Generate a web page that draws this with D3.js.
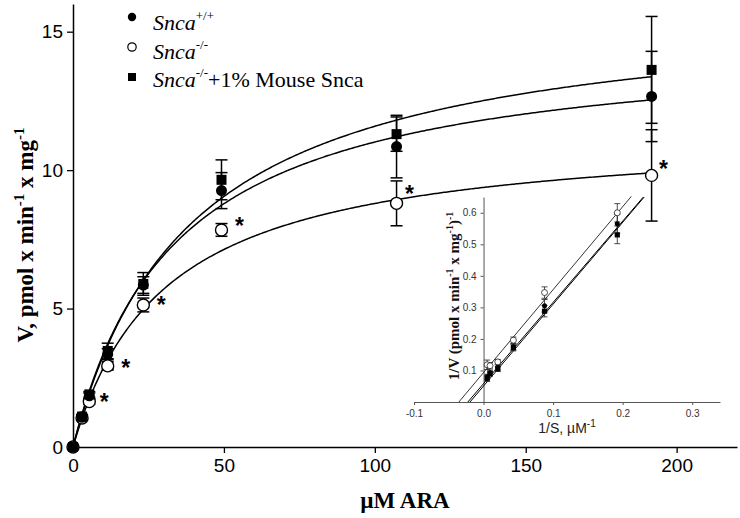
<!DOCTYPE html>
<html><head><meta charset="utf-8">
<script src="https://cdn.jsdelivr.net/npm/d3@7/dist/d3.min.js"></script>
<style>body{margin:0;background:#fff}svg{display:block}</style>
</head><body>
<svg id="c" width="740" height="518"></svg>
<script>
// ---------- data ----------
const substrate = [0, 3, 5.4, 11.5, 23.3, 49.2, 107.2, 191.7];           // µM ARA
const wtV       = [0, 1.07, 1.85, 3.35, 5.85, 9.26, 10.85, 12.66];       // Snca+/+
const wtSE      = [0, 0.08, 0.1, 0.2, 0.3, 0.65, 1.13, 1.63];
const koV       = [0, 1.05, 1.64, 2.93, 5.13, 7.84, 8.80, 9.81];         // Snca-/-
const koSE      = [0, 0.08, 0.1, 0.15, 0.25, 0.23, 0.81, 1.65];
const resV      = [0, 1.1, 1.90, 3.47, 5.89, 9.65, 11.30, 13.62];       // Snca-/- + 1% mouse Snca
const resSE     = [0, 0.08, 0.1, 0.28, 0.41, 0.72, 0.62, 1.93];
const starIdx   = [2, 3, 4, 5, 6, 7];                                    // significance marks on Snca-/-
// Michaelis-Menten fit curves drawn in the figure
const fitNames  = ["wt", "ko", "res"];
const fitVmax   = [14.76, 11.47, 16.09];
const fitKm     = [34.0, 30.4, 38.9];
const xTicks    = [0, 50, 100, 150, 200];
const yTicks    = [0, 5, 10, 15];
// inset: Lineweaver-Burk
const invS      = [0.0052, 0.0093, 0.0205, 0.0429, 0.0877, 0.1923];
const invWt     = [0.080, 0.093, 0.110, 0.175, 0.305, 0.565];
const invWtErr  = [0.008, 0.008, 0.008, 0.010, 0.020, 0.030];
const invKo     = [0.118, 0.115, 0.127, 0.196, 0.347, 0.600];
const invKoErr  = [0.015, 0.010, 0.008, 0.010, 0.018, 0.029];
const invRes    = [0.075, 0.090, 0.105, 0.172, 0.288, 0.530];
const invResErr = [0.010, 0.008, 0.008, 0.010, 0.018, 0.028];
const lbLineKoX  = [-0.0355, 0.2125], lbLineKoY  = [0, 0.652];
const lbLineWtX  = [-0.0195, 0.2310], lbLineWtY  = [0, 0.650];
const lbLineResX = [-0.0226, 0.2298], lbLineResY = [0, 0.650];
const ixTicks   = [-0.1, 0, 0.1, 0.2, 0.3];
const iyTicks   = [0.1, 0.2, 0.3, 0.4, 0.5, 0.6];

// ---------- drawing ----------
const svg = d3.select("#c");
const x = d3.scaleLinear().domain([0, 220]).range([73, 737]);
const y = d3.scaleLinear().domain([0, 16]).range([447, 4]);

const ix = d3.scaleLinear().domain([-0.1, 0.34]).range([414, 720]);
const iy = d3.scaleLinear().domain([0, 0.65]).range([402, 197]);

// ---- inset first (underneath main marks) ----
const ins = svg.append("g");
const ixa = ins.append("g").attr("transform", `translate(0,${iy(0)})`)
  .call(d3.axisBottom(ix).tickValues(ixTicks).tickSize(3).tickSizeOuter(0).tickPadding(5).tickFormat(d => d.toFixed(1)));
const iya = ins.append("g").attr("transform", `translate(${ix(0)},0)`)
  .call(d3.axisLeft(iy).tickValues(iyTicks).tickSize(3).tickSizeOuter(0).tickPadding(4).tickFormat(d => d.toFixed(1)));
[ixa, iya].forEach(a => {
  a.select(".domain").attr("stroke", "#555").attr("stroke-width", 1);
  a.selectAll(".tick line").attr("stroke", "#555");
  a.selectAll("text").attr("font-family", "Liberation Sans, Arial, sans-serif").attr("font-size", 10).attr("fill", "#333");
});
ins.append("text").attr("x", 567).attr("y", 433).attr("text-anchor", "middle")
  .attr("font-family", "Liberation Sans, Arial, sans-serif").attr("font-size", 14).attr("fill", "#222")
  .html('1/S, µM<tspan dy="-6" font-size="10">-1</tspan>');
ins.append("text").attr("transform", "translate(459,296) rotate(-90)").attr("text-anchor", "middle")
  .attr("font-family", "Liberation Serif, Times New Roman, serif").attr("font-weight", "bold").attr("font-size", 15).attr("fill", "#111")
  .html('1/V (pmol x min<tspan dy="-6" font-size="10">-1</tspan><tspan dy="6"> x mg</tspan><tspan dy="-6" font-size="10">-1</tspan><tspan dy="6">)</tspan><tspan dy="-6" font-size="10">-1</tspan>');

function lbLine(xs, ys, w) {
  ins.append("line").attr("x1", ix(xs[0])).attr("y1", iy(ys[0])).attr("x2", ix(xs[1])).attr("y2", iy(ys[1]))
    .attr("stroke", "#000").attr("stroke-width", w);
}
lbLine(lbLineKoX, lbLineKoY, 0.8);
lbLine(lbLineWtX, lbLineWtY, 1);
lbLine(lbLineResX, lbLineResY, 1);

function insetErr(vals, errs) {
  invS.forEach((s, i) => {
    const cx = ix(s), t = iy(vals[i] + errs[i]), b = iy(vals[i] - errs[i]);
    ins.append("line").attr("x1", cx).attr("x2", cx).attr("y1", t).attr("y2", b).attr("stroke", "#222").attr("stroke-width", 0.8);
    [t, b].forEach(yy => ins.append("line").attr("x1", cx - 3).attr("x2", cx + 3).attr("y1", yy).attr("y2", yy).attr("stroke", "#222").attr("stroke-width", 0.8));
  });
}
insetErr(invKo, invKoErr); insetErr(invWt, invWtErr); insetErr(invRes, invResErr);
invS.forEach((s, i) => ins.append("circle").attr("cx", ix(s)).attr("cy", iy(invKo[i])).attr("r", 3).attr("fill", "#fff").attr("stroke", "#222").attr("stroke-width", 0.8));
invS.forEach((s, i) => ins.append("circle").attr("cx", ix(s)).attr("cy", iy(invWt[i])).attr("r", 2.5).attr("fill", "#000"));
invS.forEach((s, i) => ins.append("rect").attr("x", ix(s) - 2.6).attr("y", iy(invRes[i]) - 2.6).attr("width", 5.2).attr("height", 5.2).attr("fill", "#000"));

// ---- main axes ----
const xa = svg.append("g").attr("transform", `translate(0,${y(0)})`)
  .call(d3.axisBottom(x).tickValues(xTicks).tickSize(6).tickSizeOuter(0).tickPadding(6));
const ya = svg.append("g").attr("transform", `translate(${x(0)},0)`)
  .call(d3.axisLeft(y).tickValues(yTicks).tickSize(6).tickSizeOuter(0).tickPadding(4));
[xa, ya].forEach(a => {
  a.select(".domain").attr("stroke", "#000").attr("stroke-width", 1.5);
  a.selectAll(".tick line").attr("stroke", "#000").attr("stroke-width", 1.3);
  a.selectAll("text").attr("font-family", "Liberation Sans, Arial, sans-serif").attr("font-size", 19).attr("fill", "#000");
});

svg.append("text").attr("x", 405).attr("y", 508).attr("text-anchor", "middle")
  .attr("font-family", "Liberation Serif, Times New Roman, serif").attr("font-weight", "bold").attr("font-size", 23)
  .text("µM ARA");
svg.append("text").attr("transform", "translate(33,235) rotate(-90)").attr("text-anchor", "middle")
  .attr("font-family", "Liberation Serif, Times New Roman, serif").attr("font-weight", "bold").attr("font-size", 23)
  .html('V, pmol x min<tspan dy="-9" font-size="15">-1</tspan><tspan dy="9"> x mg</tspan><tspan dy="-9" font-size="15">-1</tspan>');

// ---- fit curves ----
const sMax = substrate[substrate.length - 1];
const line = d3.line().x(d => x(d[0])).y(d => y(d[1])).curve(d3.curveLinear);
fitNames.forEach((n, k) => {
  const pts = d3.range(0, sMax + 0.01, 0.5).map(s => [s, fitVmax[k] * s / (fitKm[k] + s)]);
  svg.append("path").attr("d", line(pts)).attr("fill", "none").attr("stroke", "#000").attr("stroke-width", 1.5);
});

// ---- error bars ----
function errBars(vals, ses) {
  substrate.forEach((s, i) => {
    if (!ses[i]) return;
    const cx = x(s), t = y(vals[i] + ses[i]), b = y(vals[i] - ses[i]);
    svg.append("line").attr("x1", cx).attr("x2", cx).attr("y1", t).attr("y2", b).attr("stroke", "#000").attr("stroke-width", 1.5);
    [t, b].forEach(yy => svg.append("line").attr("x1", cx - 6).attr("x2", cx + 6).attr("y1", yy).attr("y2", yy).attr("stroke", "#000").attr("stroke-width", 1.5));
  });
}
errBars(koV, koSE); errBars(wtV, wtSE); errBars(resV, resSE);

// ---- markers ----
substrate.forEach((s, i) => svg.append("circle").attr("cx", x(s)).attr("cy", y(koV[i])).attr("r", 6).attr("fill", "#fff").attr("stroke", "#000").attr("stroke-width", 1.4));
substrate.forEach((s, i) => svg.append("circle").attr("cx", x(s)).attr("cy", y(wtV[i])).attr("r", 5.5).attr("fill", "#000"));
substrate.forEach((s, i) => svg.append("rect").attr("x", x(s) - 5).attr("y", y(resV[i]) - 5).attr("width", 10).attr("height", 10).attr("fill", "#000"));

// ---- significance stars ----
const starOff = [[15, -5], [18, -3], [18, -5], [18, -9], [13, -14], [12, -11]];
starIdx.forEach((idx, j) => {
  svg.append("text").attr("x", x(substrate[idx]) + starOff[j][0]).attr("y", y(koV[idx]) + starOff[j][1] + 13)
    .attr("text-anchor", "middle").attr("font-family", "Liberation Sans, Arial, sans-serif").attr("font-size", 23).attr("font-weight", "bold")
    .text("*");
});

// ---- legend ----
const lg = svg.append("g");
const legRows = [{sym: "fc", sup: "+/+", rest: ""}, {sym: "oc", sup: "-/-", rest: ""}, {sym: "sq", sup: "-/-", rest: "+1% Mouse Snca"}];
const legSymY = [17, 47, 77], legBase = [30, 59, 87];
legRows.forEach((r, i) => {
  if (r.sym === "fc") lg.append("circle").attr("cx", 132).attr("cy", legSymY[i]).attr("r", 4.2).attr("fill", "#000");
  if (r.sym === "oc") lg.append("circle").attr("cx", 132).attr("cy", legSymY[i]).attr("r", 4.2).attr("fill", "#fff").attr("stroke", "#000").attr("stroke-width", 1.2);
  if (r.sym === "sq") lg.append("rect").attr("x", 128).attr("y", legSymY[i] - 4).attr("width", 8).attr("height", 8).attr("fill", "#000");
  const t = lg.append("text").attr("x", 153).attr("y", legBase[i])
    .attr("font-family", "Liberation Serif, Times New Roman, serif").attr("font-size", 22);
  t.append("tspan").attr("font-style", "italic").text("Snca");
  t.append("tspan").attr("dy", -10).attr("font-size", 13).text(r.sup);
  if (r.rest) t.append("tspan").attr("dy", 10).text(r.rest);
});
</script>
</body></html>
